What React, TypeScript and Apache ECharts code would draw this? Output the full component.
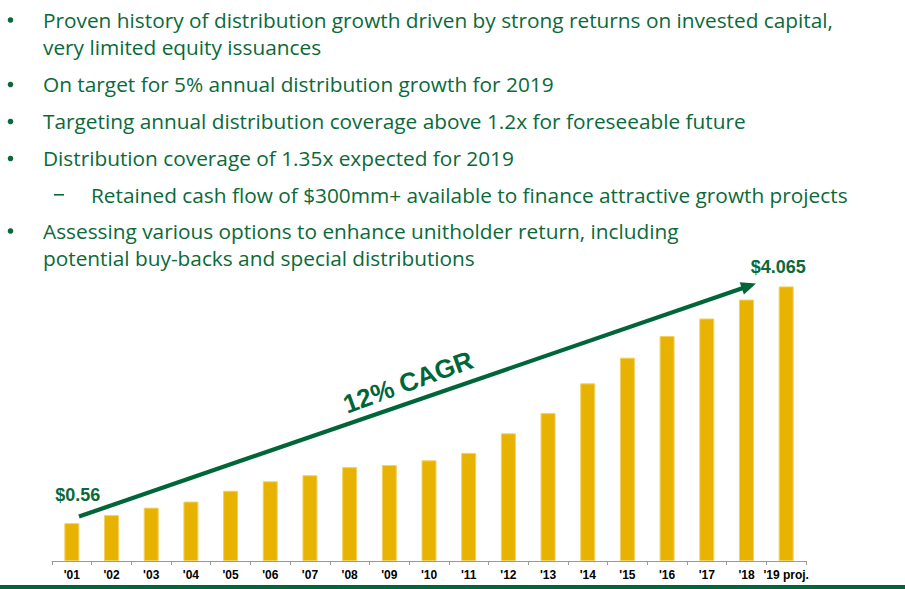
import React, { useEffect, useRef } from "react";
import * as echarts from "echarts";

// ---- data ----
const categories = [
  "'01", "'02", "'03", "'04", "'05", "'06", "'07", "'08", "'09", "'10",
  "'11", "'12", "'13", "'14", "'15", "'16", "'17", "'18", "'19 proj.",
];
const distributions = [
  0.56, 0.68, 0.79, 0.88, 1.04, 1.18, 1.27, 1.39, 1.42, 1.49,
  1.6, 1.89, 2.19, 2.63, 3.01, 3.33, 3.59, 3.87, 4.065,
];
const labelledIndices = [0, 18];
const trendLabel = "12% CAGR";

type Line = { kind: "bullet" | "cont" | "dash"; text: string };
const bulletLines: Line[] = [
  { kind: "bullet", text: "Proven history of distribution growth driven by strong returns on invested capital," },
  { kind: "cont", text: "very limited equity issuances" },
  { kind: "bullet", text: "On target for 5% annual distribution growth for 2019" },
  { kind: "bullet", text: "Targeting annual distribution coverage above 1.2x for foreseeable future" },
  { kind: "bullet", text: "Distribution coverage of 1.35x expected for 2019" },
  { kind: "dash", text: "Retained cash flow of $300mm+ available to finance attractive growth projects" },
  { kind: "bullet", text: "Assessing various options to enhance unitholder return, including" },
  { kind: "cont", text: "potential buy-backs and special distributions" },
];
const lineBaselines = [26.5, 54, 91, 128, 165, 201.5, 237.5, 265];

const GREEN = "#0a6a39";
const DARK_GREEN = "#00663a";
const GOLD = "#e8b300";
const TEXT_FONT = "'Open Sans', 'Noto Sans', sans-serif";
const TEXT_SIZE = 19.5;

function measure(text: string, font: string): number {
  const c = document.createElement("canvas").getContext("2d");
  if (!c) return text.length * 10;
  c.font = font;
  return c.measureText(text).width;
}

export default function App() {
  const ref = useRef<HTMLDivElement>(null);

  useEffect(() => {
    if (!ref.current) return;
    const chart = echarts.init(ref.current, undefined, { renderer: "svg" });

    // horizontal compression to emulate a narrow (Calibri-like) face
    const w1 = measure(bulletLines[0].text, `${TEXT_SIZE}px ${TEXT_FONT}`);
    const sx = Math.min(1, 790 / w1) * (790 / 740);

    const graphics: any[] = [];
    bulletLines.forEach((ln, i) => {
      const by = lineBaselines[i];
      const cy = by - TEXT_SIZE * 0.34;
      const tx = ln.kind === "dash" ? 91 : 43;
      if (ln.kind === "bullet") {
        graphics.push({
          type: "circle",
          shape: { cx: 10.5, cy: by - 6.5, r: 2.8 },
          style: { fill: GREEN },
          silent: true,
        });
      }
      if (ln.kind === "dash") {
        graphics.push({
          type: "rect",
          shape: { x: 54, y: by - 7.5, width: 10, height: 1.6 },
          style: { fill: GREEN },
          silent: true,
        });
      }
      graphics.push({
        type: "text",
        x: tx,
        y: cy,
        scaleX: sx,
        style: {
          text: ln.text,
          fill: GREEN,
          font: `${TEXT_SIZE}px ${TEXT_FONT}`,
          align: "left",
          verticalAlign: "middle",
        },
        silent: true,
      });
    });

    // trend arrow (annotation)
    const x0 = 79, y0 = 516.5, x1 = 756, y1 = 283.5;
    const len = Math.hypot(x1 - x0, y1 - y0);
    const dx = (x1 - x0) / len, dy = (y1 - y0) / len;
    const headL = 15, headW = 6.5;
    const bx = x1 - headL * dx, by2 = y1 - headL * dy;
    const nx = -dy, ny = dx;
    graphics.push({
      type: "line",
      shape: { x1: x0, y1: y0, x2: bx + dx * 2, y2: by2 + dy * 2 },
      style: { stroke: DARK_GREEN, lineWidth: 4.2 },
      silent: true,
    });
    graphics.push({
      type: "polygon",
      shape: {
        points: [
          [x1, y1],
          [bx + nx * headW, by2 + ny * headW],
          [bx - nx * headW, by2 - ny * headW],
        ],
      },
      style: { fill: DARK_GREEN },
      silent: true,
    });
    graphics.push({
      type: "text",
      x: 408,
      y: 382,
      rotation: (20 * Math.PI) / 180,
      style: {
        text: trendLabel,
        fill: DARK_GREEN,
        font: "bold 26px Arial, 'Liberation Sans', sans-serif",
        align: "center",
        verticalAlign: "middle",
      },
      silent: true,
    });
    // bottom rule
    graphics.push({
      type: "rect",
      shape: { x: 0, y: 585, width: 905, height: 4 },
      style: { fill: DARK_GREEN },
      silent: true,
    });

    const barData = distributions.map((v, i) => {
      if (!labelledIndices.includes(i)) return v;
      const first = i === 0;
      return {
        value: v,
        label: {
          show: true,
          position: "top",
          distance: 4,
          offset: first ? [6, -15] : [-8, -6],
          formatter: (p: any) => "$" + p.value,
          color: GREEN,
          fontFamily: "Arial, 'Liberation Sans', sans-serif",
          fontWeight: "bold",
          fontSize: 18,
        },
      };
    });

    chart.setOption({
      animation: false,
      backgroundColor: "#ffffff",
      grid: { left: 52, right: 99, top: 257, bottom: 28, containLabel: false },
      xAxis: {
        type: "category",
        data: categories,
        axisLine: { show: true, lineStyle: { color: "#9a9a9a", width: 1 } },
        axisTick: { show: true, length: 4, alignWithLabel: false, lineStyle: { color: "#9a9a9a" } },
        axisLabel: {
          color: "#000",
          fontFamily: "Arial, 'Liberation Sans', sans-serif",
          fontWeight: "bold",
          fontSize: 12,
          margin: 8,
          interval: 0,
        },
      },
      yAxis: {
        type: "value",
        min: 0,
        max: 4.5,
        show: false,
        splitLine: { show: false },
      },
      series: [
        {
          type: "bar",
          data: barData,
          barWidth: 15,
          itemStyle: { color: GOLD, borderColor: "#f3d064", borderWidth: 1 },
          label: { show: false },
        },
      ],
      graphic: graphics,
    });

    return () => chart.dispose();
  }, []);

  return (
    <div
      ref={ref}
      style={{ position: "fixed", left: 0, top: 0, width: 905, height: 589, background: "#fff" }}
    />
  );
}
